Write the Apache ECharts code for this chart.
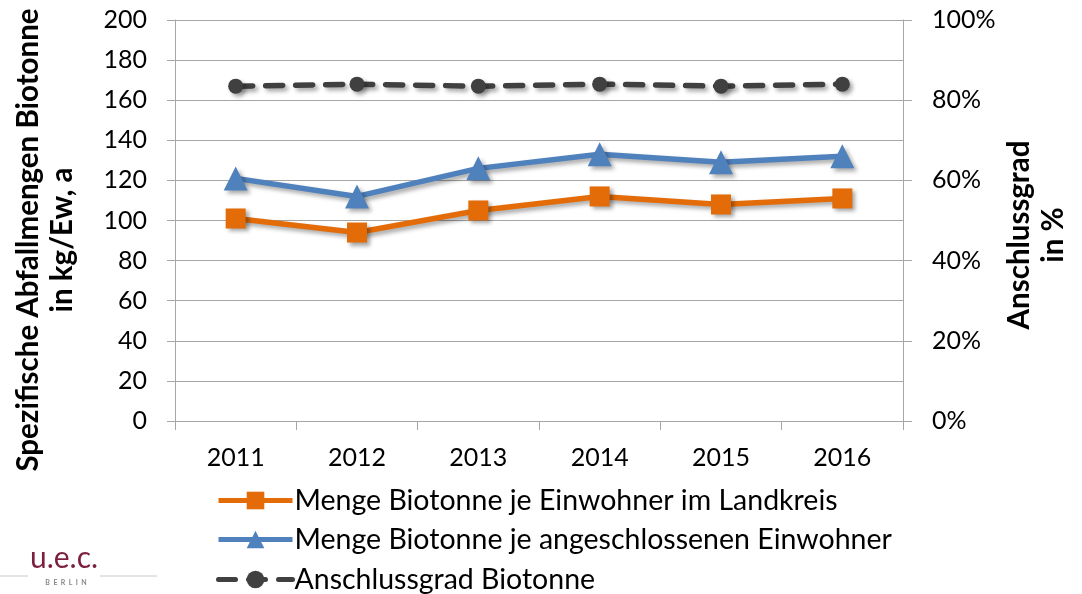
<!DOCTYPE html>
<html>
<head>
<meta charset="utf-8">
<script src="https://cdn.jsdelivr.net/npm/echarts@6/dist/echarts.min.js"></script>
<style>
html,body{margin:0;padding:0;background:#fff;}
#chart{width:1082px;height:594px;}
</style>
</head>
<body>
<div id="chart"></div>
<script>
// Jahre
var years = ['2011', '2012', '2013', '2014', '2015', '2016'];
// kg/Ew, a
var mengeLandkreis = [101, 94, 105, 112, 108, 111];
var mengeAngeschlossen = [121, 112, 126, 133, 129, 132];
// Anschlussgrad in %
var anschlussgrad = [83.5, 84, 83.5, 84, 83.5, 84];

var seriesNames = [
    'Menge Biotonne je Einwohner im Landkreis',
    'Menge Biotonne je angeschlossenen Einwohner',
    'Anschlussgrad Biotonne'
];
var legendTops = [486, 525, 565];

var FONT = 'Lato';
var gridColor = '#a6a6a6';
var shadow = {shadowColor: 'rgba(0,0,0,0.35)', shadowBlur: 4, shadowOffsetX: 3, shadowOffsetY: 3};

var chart = echarts.init(document.getElementById('chart'));

// je Serie eine eigene Legende, damit sie untereinander stehen
var legends = [];
for (var i = 0; i < seriesNames.length; i++) {
    legends.push({
        orient: 'horizontal',
        left: 216,
        top: legendTops[i],
        padding: 0,
        itemWidth: 74,
        itemHeight: 22,
        lineStyle: {width: 5},
        textStyle: {color: '#000', fontSize: 28.5, fontFamily: FONT, lineHeight: 22, padding: [0, 0, 0, -3]},
        data: [seriesNames[i]]
    });
}

var option = {
    backgroundColor: '#fff',
    animation: false,
    textStyle: {fontFamily: FONT},
    grid: {left: 175, right: 179, top: 20, bottom: 173},
    xAxis: {
        type: 'category',
        data: years,
        boundaryGap: true,
        axisLine: {lineStyle: {color: gridColor, width: 1}},
        axisTick: {show: true, interval: 0, length: 9, lineStyle: {color: gridColor}},
        axisLabel: {color: '#000', fontSize: 25, fontFamily: FONT, margin: 24}
    },
    yAxis: [{
        type: 'value',
        min: 0, max: 200, interval: 20,
        axisLine: {show: true, lineStyle: {color: gridColor, width: 1}},
        axisTick: {show: true, length: 8, lineStyle: {color: gridColor}},
        axisLabel: {color: '#000', fontSize: 25, fontFamily: FONT, margin: 28},
        splitLine: {lineStyle: {color: gridColor, width: 1}}
    }, {
        type: 'value',
        min: 0, max: 100, interval: 20,
        position: 'right',
        axisLine: {show: true, lineStyle: {color: gridColor, width: 1}},
        axisTick: {show: true, length: 9, lineStyle: {color: gridColor}},
        axisLabel: {color: '#000', fontSize: 25, fontFamily: FONT, margin: 29, formatter: '{value}%'},
        splitLine: {show: false}
    }],
    legend: legends,
    series: [{
        name: seriesNames[0],
        type: 'line',
        data: mengeLandkreis,
        symbol: 'rect',
        symbolSize: 20,
        itemStyle: Object.assign({color: '#e36c09'}, shadow),
        lineStyle: Object.assign({color: '#e36c09', width: 5.5}, shadow)
    }, {
        name: seriesNames[1],
        type: 'line',
        data: mengeAngeschlossen,
        symbol: 'triangle',
        symbolSize: 24,
        itemStyle: Object.assign({color: '#4f81bd'}, shadow),
        lineStyle: Object.assign({color: '#4f81bd', width: 5.5}, shadow)
    }, {
        name: seriesNames[2],
        type: 'line',
        yAxisIndex: 1,
        data: anschlussgrad,
        symbol: 'circle',
        symbolSize: 15,
        itemStyle: Object.assign({color: '#404040'}, shadow),
        lineStyle: Object.assign({color: '#404040', width: 5.5, type: [17, 13], cap: 'round'}, shadow)
    }],
    // Achsentitel und Logo als freie Texte
    graphic: [{
        type: 'text',
        x: 45, y: 240,
        rotation: Math.PI / 2,
        style: {
            text: 'Spezifische Abfallmengen Biotonne\nin kg/Ew, a',
            font: 'bold 29.5px ' + FONT,
            fill: '#000',
            align: 'center',
            verticalAlign: 'middle',
            lineHeight: 34
        }
    }, {
        type: 'text',
        x: 1036, y: 235,
        rotation: Math.PI / 2,
        style: {
            text: 'Anschlussgrad\nin %',
            font: 'bold 29.5px ' + FONT,
            fill: '#000',
            align: 'center',
            verticalAlign: 'middle',
            lineHeight: 34
        }
    }, {
        type: 'text',
        x: 64, y: 558,
        style: {text: 'u.e.c.', font: '30px ' + FONT, fill: '#7b1f3e', align: 'center', verticalAlign: 'middle'}
    }, {
        type: 'text',
        x: 66, y: 583,
        style: {text: 'B  E  R  L  I  N', font: 'bold 7px ' + FONT, fill: '#888', align: 'center', verticalAlign: 'middle'}
    }, {
        type: 'line',
        shape: {x1: 0, y1: 576, x2: 28, y2: 576},
        style: {stroke: '#c8c8c8', lineWidth: 1}
    }, {
        type: 'line',
        shape: {x1: 100, y1: 576, x2: 157, y2: 576},
        style: {stroke: '#c8c8c8', lineWidth: 1}
    }]
};

chart.setOption(option);
</script>
</body>
</html>
